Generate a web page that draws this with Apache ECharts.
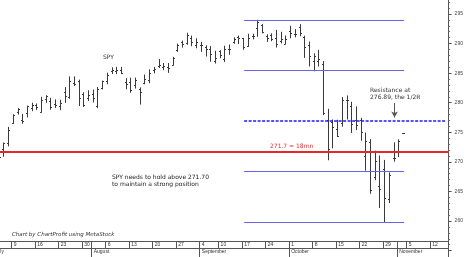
<!DOCTYPE html>
<html><head><meta charset="utf-8">
<script src="https://cdn.jsdelivr.net/npm/echarts@6/dist/echarts.min.js"></script>
<style>html,body{margin:0;padding:0;background:#fff;overflow:hidden;width:474px;height:257px}
#c{position:absolute;left:-8px;top:-16px;width:482px;height:273px}</style>
</head><body><div id="c"></div>
<script>
const dates = ['07-02','07-03','07-05','07-06','07-09','07-10','07-11','07-12','07-13','07-16','07-17','07-18','07-19','07-20','07-23','07-24','07-25','07-26','07-27','07-30','07-31','08-01','08-02','08-03','08-06','08-07','08-08','08-09','08-10','08-13','08-14','08-15','08-16','08-17','08-20','08-21','08-22','08-23','08-24','08-27','08-28','08-29','08-30','08-31','09-04','09-05','09-06','09-07','09-10','09-11','09-12','09-13','09-14','09-17','09-18','09-19','09-20','09-21','09-24','09-25','09-26','09-27','09-28','10-01','10-02','10-03','10-04','10-05','10-08','10-09','10-10','10-11','10-12','10-15','10-16','10-17','10-18','10-19','10-22','10-23','10-24','10-25','10-26','10-29','10-30','10-31','11-01','11-02','11-05','11-06','11-07','11-08','11-09','11-12','11-13','11-14','11-15'];
const opens = [269.51,272.87,272.17,273.14,276.56,278.42,277.15,278.28,279.17,279.64,278.47,280.56,280.31,279.77,279.45,281.79,281.05,283.31,283.71,281.51,280.81,281.56,279.38,282.53,283.64,285.39,285.39,285.53,283.45,283.47,282.92,282.38,283.40,283.83,285.57,286.25,286.00,286.07,286.44,288.86,290.30,290.16,290.93,289.84,289.84,289.41,289.15,286.98,288.74,287.37,289.06,290.32,291.06,290.88,289.58,291.25,292.64,293.09,291.34,291.53,290.91,290.41,289.99,292.11,291.56,292.74,291.18,289.69,287.05,287.05,286.53,277.08,276.77,275.55,276.60,280.52,279.40,277.14,277.00,270.95,273.33,267.38,265.92,268.80,263.67,270.65,271.60,274.80];
const highs = [271.92,272.98,273.18,275.84,277.96,279.01,278.04,279.43,279.93,279.80,280.91,281.18,280.74,280.48,280.43,282.56,284.37,284.36,283.82,281.69,282.02,282.13,282.58,283.66,284.99,285.91,285.99,285.97,284.06,284.16,284.17,282.50,284.68,285.56,285.97,287.31,286.63,286.63,287.67,289.90,290.42,291.74,291.26,290.81,290.21,289.64,289.49,288.70,288.80,289.55,289.75,290.98,291.27,290.88,291.58,291.58,293.94,293.22,291.50,291.65,292.24,291.91,291.28,292.93,292.36,293.21,291.24,290.27,288.28,288.86,286.96,278.90,277.09,277.04,280.87,281.15,280.07,279.30,277.36,274.87,273.76,271.81,271.00,270.25,268.12,273.23,273.73,274.80];
const lows = [268.49,269.74,270.96,272.71,276.50,278.08,276.52,277.60,278.66,278.84,278.41,280.06,278.90,279.20,278.82,280.06,280.76,282.92,279.53,279.36,280.38,280.13,279.16,282.33,283.20,284.94,284.92,284.92,282.36,281.77,282.48,279.77,283.20,283.37,285.06,285.96,285.57,285.13,286.38,288.68,289.40,289.89,289.64,289.29,288.68,287.89,287.00,286.71,287.60,286.98,288.20,290.07,290.00,289.04,289.55,290.80,291.24,291.81,290.37,290.48,289.41,290.10,289.95,290.98,291.14,291.32,287.66,286.22,285.40,286.20,277.98,270.36,272.37,274.30,276.03,277.25,274.97,275.47,273.66,268.61,264.70,267.00,262.29,259.85,263.12,270.12,270.90,274.80];
const closes = [271.86,270.90,273.11,275.42,277.90,278.90,276.86,279.37,279.59,279.34,280.47,281.06,279.20,279.68,279.96,281.15,283.71,283.16,280.86,279.55,281.33,280.86,282.39,283.60,284.64,285.58,285.46,285.07,283.16,282.10,283.90,281.78,284.06,285.06,285.67,286.34,286.17,285.79,287.51,289.78,289.92,291.48,290.30,290.31,289.81,289.03,288.16,287.60,288.10,289.05,289.12,290.83,290.88,289.34,290.91,291.22,293.58,291.99,291.02,290.75,289.88,290.69,290.72,291.73,291.56,291.72,289.44,287.82,287.82,287.40,278.30,272.17,275.95,274.40,280.40,280.45,276.40,276.25,275.01,273.61,265.32,270.08,265.33,263.86,267.77,270.63,273.51,274.80];
const weekStarts = ['07-09','07-16','07-23','07-30','08-06','08-13','08-20','08-27','09-04','09-10','09-17','09-24','10-01','10-08','10-15','10-22','10-29','11-05','11-12'];
const monthStarts = {'07-02':'July','08-01':'August','09-04':'September','10-01':'October','11-01':'November'};
const yTicks = [260,265,270,275,280,285,290,295];
const levels = {top:293.94, q1:285.42, half:276.89, q3:268.37, bottom:259.85, support:271.7};

const ohlc = opens.map((o,i)=>[i,o,highs[i],lows[i],closes[i]]);
const chart = echarts.init(document.getElementById('c'), null, {renderer:'canvas'});
const barColor = '#3a3a3a';
const blue = '#6464e6';
const OX = 8, OY = 16; // container shift (page -> chart coords)
const dayOf = d => String(parseInt(d.split('-')[1],10));
const blueStyle = {color:blue, width:1, type:'solid', opacity:1};
function seg(from, to, v, style){
  return [{coord:[from, v], lineStyle:style}, {coord:[to, v], lineStyle:style}];
}
chart.setOption({
  animation:false,
  backgroundColor:'#fff',
  grid:{left:0.12, right:25.4, top:0.43, bottom:6.4, containLabel:false},
  xAxis:[{
    type:'category', data:dates, position:'bottom', offset:-9.6,
    axisLine:{show:true, lineStyle:{color:'#555', width:1}},
    axisTick:{show:true, length:7, lineStyle:{color:'#555'},
      interval:(i,v)=>weekStarts.indexOf(v)>=0 || monthStarts[v]!==undefined},
    axisLabel:{show:true, interval:(i,v)=>weekStarts.indexOf(v)>=0, formatter:v=>dayOf(v),
      align:'left', margin:1.5, fontSize:5, fontFamily:'Liberation Sans', color:'#333', verticalAlign:'top'},
    splitLine:{show:false}
  },{
    type:'category', data:dates, position:'bottom', offset:-2.6,
    axisLine:{show:true, lineStyle:{color:'#555', width:1}},
    axisTick:{show:true, length:9, lineStyle:{color:'#555'}, interval:(i,v)=>monthStarts[v]!==undefined},
    axisLabel:{show:true, interval:(i,v)=>monthStarts[v]!==undefined, formatter:v=>monthStarts[v]||'',
      align:'left', margin:1.5, fontSize:5, fontFamily:'Liberation Sans', color:'#333', verticalAlign:'top'},
    splitLine:{show:false}
  }],
  yAxis:{type:'value', position:'right', min:255, max:300, interval:5,
    axisLine:{show:true, lineStyle:{color:'#555'}},
    axisTick:{show:true, length:3, lineStyle:{color:'#555'}},
    minorTick:{show:true, splitNumber:5, length:1.5, lineStyle:{color:'#777'}},
    splitLine:{show:false},
    axisLabel:{margin:6, fontSize:5, fontFamily:'Liberation Sans', color:'#444',
      formatter:v=>yTicks.indexOf(v)>=0?String(v):''}
  },
  series:[{
    type:'custom', name:'SPY', xAxisIndex:0, data:ohlc, clip:true,
    encode:{x:0, y:[1,2,3,4]},
    renderItem:function(params, api){
      const i = api.value(0);
      const o = api.coord([i, api.value(1)]);
      const h = api.coord([i, api.value(2)]);
      const l = api.coord([i, api.value(3)]);
      const c = api.coord([i, api.value(4)]);
      const px = Math.round(o[0]) - 0.5;
      const st = {stroke:barColor, lineWidth:1};
      return {type:'group', children:[
        {type:'line', shape:{x1:px, y1:h[1]-0.5, x2:px, y2:l[1]+0.5}, style:st},
        {type:'line', shape:{x1:px-1.5, y1:Math.round(o[1])+0.5, x2:px, y2:Math.round(o[1])+0.5}, style:st},
        {type:'line', shape:{x1:px, y1:Math.round(c[1])+0.5, x2:px+1.5, y2:Math.round(c[1])+0.5}, style:st}
      ]};
    },
    markLine:{silent:true, symbol:'none', label:{show:false}, animation:false,
      lineStyle:{color:blue, width:1, type:'solid', opacity:1},
      emphasis:{disabled:true},
      data:[
        seg('09-17','11-02',levels.top, blueStyle),
        seg('09-17','11-02',levels.q1, blueStyle),
        seg('09-17','11-02',levels.q3, blueStyle),
        seg('09-17','11-02',levels.bottom, blueStyle),
        seg('09-17','11-15',levels.half, {color:'#1a1aff', width:1.5, type:[3,1.5], opacity:1}),
        {yAxis:levels.support, lineStyle:{color:'#e8262a', width:2, type:'solid', opacity:1}},
        [{coord:['10-31',279.95], lineStyle:{color:'#555',width:1,type:'solid',opacity:1}, symbol:'none'},
         {coord:['10-31',277.5], lineStyle:{color:'#555',width:1,type:'solid',opacity:1}, symbol:'arrow', symbolSize:[5,6]}]
      ]}
  }],
  graphic:[
    {type:'text', x:103+OX, y:54+OY, style:{text:'SPY', fill:'#333', font:'6px "DejaVu Sans"'}},
    {type:'text', x:370+OX, y:87+OY, style:{text:'Resistance at\n276.89, the 1/2R', fill:'#333', font:'6px "DejaVu Sans"', lineHeight:7}},
    {type:'text', x:112+OX, y:174+OY, style:{text:'SPY needs to hold above 271.70\nto maintain a strong position', fill:'#222', font:'6px "DejaVu Sans"', lineHeight:7}},
    {type:'text', x:270+OX, y:143+OY, style:{text:'271.7 = 18mn', fill:'#e03030', font:'6px "DejaVu Sans"'}},
    {type:'text', x:12+OX, y:232+OY, style:{text:'Chart by ChartProfit using MetaStock', fill:'#333', font:'italic 5.5px "DejaVu Sans"'}}
  ]
});
</script></body></html>
